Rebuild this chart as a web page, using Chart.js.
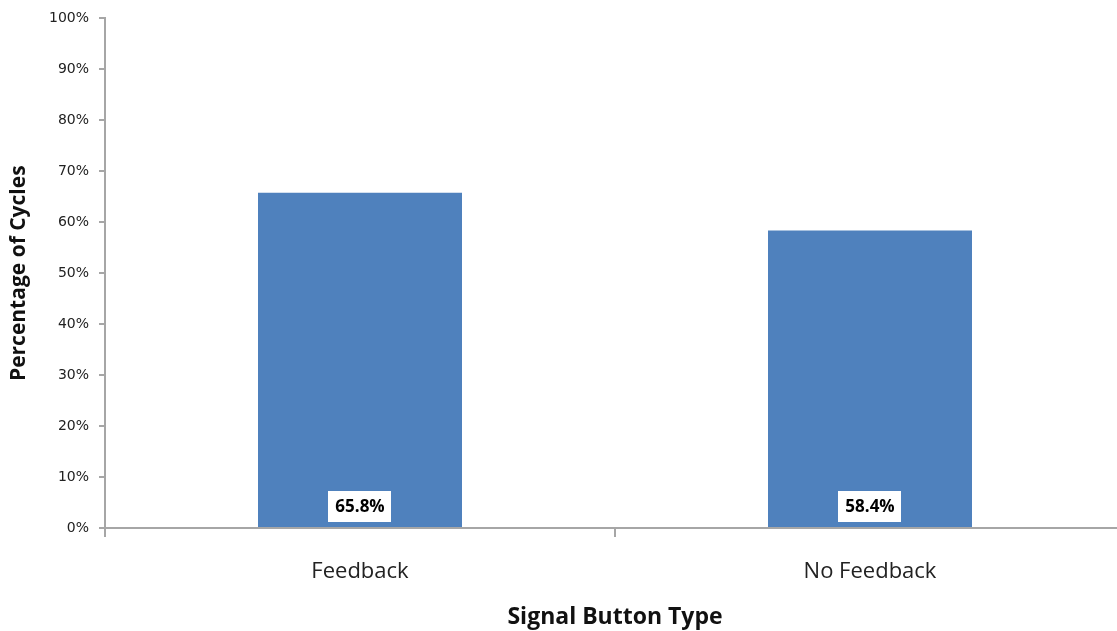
<!DOCTYPE html>
<html>
<head>
<meta charset="utf-8">
<script src="https://cdn.jsdelivr.net/npm/chart.js@4.4.1/dist/chart.umd.min.js"></script>
<style>
  html, body { margin: 0; padding: 0; background: #fff; }
  /* the plot runs a little past the right edge, so its last tick is cut off */
  #wrap { width: 1117px; height: 631px; overflow: hidden; }
</style>
</head>
<body>
<div id="wrap"><canvas id="chart" width="1125" height="631"></canvas></div>
<script>
const categories = ["Feedback", "No Feedback"];
const cycleShare = [65.8, 58.4];
const yTicks = [0, 10, 20, 30, 40, 50, 60, 70, 80, 90, 100];

const axisGrey = "#a6a6a6";

// white boxed value labels sitting at the foot of each bar
const valueBoxes = {
  id: "valueBoxes",
  afterDatasetsDraw(chart) {
    const ctx = chart.ctx;
    const meta = chart.getDatasetMeta(0);
    ctx.save();
    ctx.font = "bold 17px 'Open Sans'";
    ctx.textAlign = "center";
    ctx.textBaseline = "middle";
    meta.data.forEach((bar, i) => {
      const txt = cycleShare[i].toFixed(1) + "%";
      const w = ctx.measureText(txt).width + 14;
      const h = 31;
      const cy = bar.base - 21;
      ctx.fillStyle = "#fff";
      ctx.fillRect(Math.round(bar.x - w / 2), Math.round(cy - h / 2), Math.round(w), h);
      ctx.fillStyle = "#000";
      ctx.fillText(txt, bar.x, cy + 1);
    });
    ctx.restore();
  }
};

new Chart(document.getElementById("chart"), {
  type: "bar",
  data: {
    labels: categories,
    datasets: [{
      data: cycleShare,
      backgroundColor: "#4f81bd",
      borderWidth: 0,
      barPercentage: 1,
      categoryPercentage: 0.4
    }]
  },
  options: {
    responsive: false,
    animation: false,
    layout: { padding: { top: 15, right: 0, left: 0, bottom: 0 } },
    plugins: {
      legend: { display: false },
      tooltip: { enabled: false }
    },
    scales: {
      x: {
        grid: {
          offset: true,
          drawOnChartArea: false,
          color: axisGrey,
          lineWidth: 2,
          tickLength: 9
        },
        border: { color: axisGrey, width: 2 },
        ticks: {
          color: "#222",
          font: { family: "'Open Sans'", size: 22 },
          padding: 22
        },
        title: {
          display: true,
          text: "Signal Button Type",
          color: "#111",
          font: { family: "'Open Sans'", size: 23, weight: "bold" },
          padding: { top: 0, bottom: 0 }
        },
        afterFit(scale) { scale.height = 103; }
      },
      y: {
        min: 0,
        max: 100,
        afterBuildTicks(scale) { scale.ticks = yTicks.map(v => ({ value: v })); },
        grid: {
          drawOnChartArea: false,
          color: axisGrey,
          lineWidth: 2,
          tickLength: 6
        },
        border: { color: axisGrey, width: 2 },
        ticks: {
          color: "#222",
          font: { family: "'DejaVu Sans'", size: 14 },
          padding: 10,
          callback: v => v + "%"
        },
        title: {
          display: true,
          text: "Percentage of Cycles",
          color: "#111",
          font: { family: "'Open Sans'", size: 21, weight: "bold" },
          padding: { top: 6, bottom: 0 }
        },
        afterFit(scale) { scale.width = 105; }
      }
    }
  },
  plugins: [valueBoxes]
});
</script>
</body>
</html>
